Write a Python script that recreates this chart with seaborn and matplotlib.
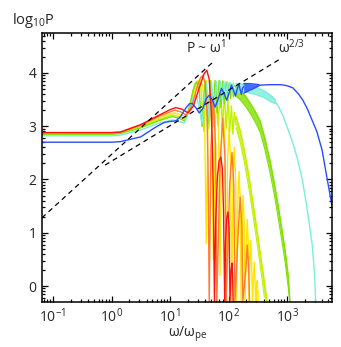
import numpy as np
import matplotlib
matplotlib.use("Agg")
import matplotlib.pyplot as plt
import seaborn as sns
from matplotlib.ticker import FixedLocator, LogLocator, LogFormatterMathtext, NullFormatter

# ---------------- data (log10 omega, log10 P) ----------------
red = [(-1.19, 2.88), (0.00, 2.88), (0.15, 2.89), (0.50, 3.03), (0.80, 3.20), (1.00, 3.31),
       (1.10, 3.35), (1.20, 3.32), (1.31, 3.25), (1.40, 3.38), (1.50, 3.72), (1.58, 3.98),
       (1.63, 4.05), (1.67, 3.88), (1.70, 3.40), (1.72, 2.80), (1.74, 1.80), (1.76, -0.30),
       (1.78, 1.20), (1.81, 2.05), (1.84, 2.35), (1.87, 2.42), (1.895, 2.20), (1.915, 1.40),
       (1.935, -0.30), (1.95, 0.85), (1.97, 1.28), (1.99, 1.39), (2.01, 1.10), (2.025, -0.30),
       (2.045, 0.30), (2.06, 0.43), (2.07, 0.20), (2.08, -0.30), (2.36, -0.30)]

orange = [(-1.19, 2.88), (0.00, 2.88), (0.15, 2.89), (0.50, 3.02), (0.80, 3.18), (1.00, 3.27),
          (1.08, 3.30), (1.18, 3.27), (1.28, 3.21), (1.38, 3.40), (1.46, 3.72), (1.52, 3.91),
          (1.56, 3.95), (1.60, 3.82), (1.63, 3.30), (1.65, 2.30), (1.67, -0.30),
          (1.70, 2.60), (1.74, 3.55), (1.78, 2.60), (1.80, -0.30),
          (1.86, 2.40), (1.90, 3.15), (1.94, 2.40), (1.96, -0.30),
          (2.02, 1.90), (2.06, 2.51), (2.09, 1.90), (2.11, -0.30),
          (2.17, 1.10), (2.20, 1.67), (2.23, 1.10), (2.245, -0.30),
          (2.295, 0.30), (2.32, 0.77), (2.345, 0.30), (2.36, -0.30), (2.51, -0.30)]

yellow = [(-1.19, 2.87), (0.00, 2.87), (0.15, 2.88), (0.50, 3.01), (0.80, 3.15), (1.00, 3.23),
          (1.07, 3.25), (1.17, 3.22), (1.27, 3.18), (1.36, 3.40), (1.44, 3.72), (1.49, 3.85),
          (1.52, 3.87), (1.56, 3.75), (1.59, 3.30), (1.62, 0.80),
          (1.65, 3.10), (1.68, 3.80), (1.71, 3.10), (1.74, 0.50),
          (1.77, 2.90), (1.80, 3.60), (1.83, 2.90), (1.855, 0.20),
          (1.88, 2.65), (1.91, 3.32), (1.94, 2.65), (1.96, -0.30),
          (1.985, 2.35), (2.01, 2.98), (2.035, 2.35), (2.055, -0.30),
          (2.078, 2.00), (2.10, 2.60), (2.122, 2.00), (2.14, -0.30),
          (2.16, 1.60), (2.18, 2.15), (2.20, 1.60), (2.215, -0.30),
          (2.233, 1.20), (2.25, 1.70), (2.267, 1.20), (2.285, -0.30),
          (2.303, 0.80), (2.32, 1.25), (2.337, 0.80), (2.35, -0.30),
          (2.365, 0.45), (2.38, 0.85), (2.395, 0.45), (2.41, -0.30),
          (2.425, 0.10), (2.44, 0.45), (2.455, 0.10), (2.465, -0.30),
          (2.48, -0.10), (2.49, 0.10), (2.50, -0.10), (2.51, -0.30), (2.66, -0.30)]

ygreen = [(-1.19, 2.86), (0.00, 2.86), (0.15, 2.87), (0.50, 2.99), (0.80, 3.12), (1.00, 3.20),
          (1.06, 3.21), (1.16, 3.18), (1.26, 3.14), (1.34, 3.38), (1.41, 3.70), (1.46, 3.84),
          (1.49, 3.85), (1.53, 3.70), (1.56, 3.20), (1.58, 2.90),
          (1.62, 3.86), (1.665, 2.95), (1.70, 3.85), (1.745, 3.00), (1.785, 3.80), (1.825, 3.00),
          (1.86, 3.72), (1.895, 3.00), (1.93, 3.62), (1.96, 2.95), (1.99, 3.50), (2.02, 2.90),
          (2.05, 3.38), (2.075, 2.85), (2.10, 3.26), (2.13, 3.02)]
ygreen_tail = [(2.66, -0.30), (3.05, -0.30)]
ygreen_band_x = [2.13, 2.20, 2.27, 2.34, 2.42, 2.50, 2.57, 2.61, 2.66]
ygreen_band_hi = [3.18, 2.92, 2.55, 2.12, 1.55, 0.95, 0.40, 0.10, -0.30]
ygreen_band_lo = [2.97, 2.70, 2.33, 1.89, 1.32, 0.72, 0.16, -0.18, -0.30]

green = [(-1.19, 2.85), (0.00, 2.85), (0.15, 2.86), (0.50, 2.97), (0.80, 3.10), (1.00, 3.17),
         (1.05, 3.18), (1.15, 3.15), (1.25, 3.10), (1.33, 3.35), (1.39, 3.66), (1.43, 3.80),
         (1.46, 3.83), (1.50, 3.65), (1.53, 3.20), (1.55, 3.00),
         (1.60, 3.84), (1.645, 3.05), (1.69, 3.86), (1.73, 3.15), (1.77, 3.86), (1.805, 3.25),
         (1.84, 3.86), (1.87, 3.35), (1.90, 3.85), (1.93, 3.42), (1.96, 3.83), (1.985, 3.48),
         (2.01, 3.81), (2.035, 3.52), (2.06, 3.79), (2.083, 3.55), (2.105, 3.66)]
green_tail = [(3.05, -0.30), (3.49, -0.30)]
green_band_x = [2.105, 2.20, 2.30, 2.40, 2.47, 2.54, 2.62, 2.71, 2.78, 2.85, 2.91, 2.97, 3.02, 3.05]
green_band_hi = [3.76, 3.68, 3.55, 3.38, 3.25, 3.10, 2.78, 2.35, 1.95, 1.50, 1.08, 0.65, 0.20, -0.30]
green_band_lo = [3.58, 3.50, 3.36, 3.19, 3.05, 2.89, 2.57, 2.13, 1.73, 1.28, 0.86, 0.43, -0.02, -0.30]

cyan = [(-1.19, 2.82), (0.00, 2.82), (0.15, 2.83), (0.50, 2.93), (0.80, 3.05), (1.00, 3.11),
        (1.05, 3.12), (1.15, 3.09), (1.25, 3.06), (1.33, 3.30), (1.40, 3.55), (1.45, 3.58),
        (1.50, 3.35), (1.55, 3.05),
        (1.62, 3.80), (1.67, 3.15), (1.71, 3.83), (1.75, 3.30), (1.79, 3.84), (1.825, 3.42),
        (1.86, 3.84), (1.89, 3.50), (1.92, 3.84), (1.95, 3.56), (1.98, 3.83), (2.005, 3.60),
        (2.03, 3.82), (2.055, 3.62), (2.08, 3.81), (2.10, 3.63), (2.125, 3.71)]
cyan_tail = [(2.80, 3.46), (2.87, 3.34), (2.93, 3.20), (3.02, 2.93), (3.10, 2.68), (3.18, 2.38),
             (3.26, 2.00), (3.32, 1.62), (3.37, 1.25), (3.43, 0.78), (3.47, 0.25), (3.49, -0.30),
             (3.80, -0.30)]
cyan_band_x = [2.125, 2.30, 2.45, 2.60, 2.72, 2.80]
cyan_band_hi = [3.80, 3.78, 3.74, 3.67, 3.58, 3.50]
cyan_band_lo = [3.64, 3.64, 3.60, 3.54, 3.46, 3.42]

blue = [(-1.19, 2.70), (0.00, 2.70), (0.15, 2.71), (0.50, 2.80), (0.75, 2.98), (0.90, 3.07),
        (1.00, 3.09), (1.10, 3.10), (1.18, 3.18), (1.27, 3.34), (1.33, 3.42), (1.38, 3.43),
        (1.44, 3.35), (1.50, 3.25), (1.56, 3.33), (1.62, 3.52), (1.67, 3.58), (1.72, 3.50),
        (1.77, 3.36), (1.82, 3.50), (1.88, 3.71), (1.93, 3.60), (1.97, 3.49), (2.01, 3.62),
        (2.05, 3.77), (2.09, 3.66), (2.12, 3.57), (2.15, 3.70), (2.18, 3.79), (2.20, 3.68),
        (2.22, 3.60), (2.24, 3.71), (2.26, 3.75)]
blue_tail = [(2.52, 3.77), (2.70, 3.78), (2.90, 3.78), (3.00, 3.76), (3.10, 3.72), (3.20, 3.60),
             (3.27, 3.49), (3.35, 3.32), (3.43, 3.11), (3.51, 2.90), (3.60, 2.55), (3.68, 2.05),
             (3.77, 1.50), (3.80, 1.30)]
blue_band_x = [2.26, 2.35, 2.45, 2.52]
blue_band_hi = [3.80, 3.80, 3.79, 3.78]
blue_band_lo = [3.62, 3.67, 3.72, 3.76]

slope_one = [(-1.19, 1.28), (1.75, 4.22)]
slope_two_thirds = [(-0.11, 2.27), (2.88, 4.26)]

colors = {"red": "#ff1010", "orange": "#ff7a35", "yellow": "#ffe600",
          "ygreen": "#c2f000", "green": "#80e000", "cyan": "#78eedc", "blue": "#2a4cff"}

x_ticks = [0.1, 1, 10, 100, 1000]
y_ticks = [0, 1, 2, 3, 4]

# ---------------- style ----------------
sns.set_style("ticks")
plt.rcParams["font.family"] = ["Open Sans", "DejaVu Sans"]
plt.rcParams["mathtext.fontset"] = "custom"
plt.rcParams["mathtext.rm"] = "Open Sans"
plt.rcParams["mathtext.it"] = "Open Sans:italic"
plt.rcParams["mathtext.bf"] = "Open Sans:bold"

fig = plt.figure(figsize=(3.41, 3.47), dpi=100)
ax = fig.add_axes([42 / 341, 1 - 302 / 347, 290 / 341, 269 / 347])


def draw(pairs, color, lw=1.0, z=2):
    lx, lp = zip(*pairs)
    sns.lineplot(x=10 ** np.array(lx), y=list(lp), sort=False, estimator=None,
                 color=color, lw=lw, ax=ax, legend=False, zorder=z)


def band(bx, lo, hi, color):
    xx = 10 ** np.array(bx)
    ax.fill_between(xx, lo, hi, color=color, lw=0, alpha=0.8, zorder=2)
    sns.lineplot(x=xx, y=hi, sort=False, estimator=None, color=color, lw=1.0, ax=ax,
                 legend=False, zorder=2)
    sns.lineplot(x=xx, y=lo, sort=False, estimator=None, color=color, lw=0.8, ax=ax,
                 legend=False, zorder=2)


draw(red, colors["red"], z=3.2)
draw(orange, colors["orange"], z=3.1)
draw(yellow, colors["yellow"])
draw(ygreen, colors["ygreen"])
band(ygreen_band_x, ygreen_band_lo, ygreen_band_hi, colors["ygreen"])
draw(ygreen_tail, colors["ygreen"])
draw(green, colors["green"])
band(green_band_x, green_band_lo, green_band_hi, colors["green"])
draw(green_tail, colors["green"])
draw(cyan, colors["cyan"])
band(cyan_band_x, cyan_band_lo, cyan_band_hi, colors["cyan"])
draw(cyan_tail, colors["cyan"])
draw(blue, colors["blue"], z=3.3)
band(blue_band_x, blue_band_lo, blue_band_hi, colors["blue"])
draw(blue_tail, colors["blue"], z=3.3)

for line in (slope_one, slope_two_thirds):
    lx, lp = zip(*line)
    sns.lineplot(x=10 ** np.array(lx), y=list(lp), sort=False, estimator=None, color="black",
                 lw=0.9, ax=ax, legend=False, linestyle=(0, (4, 3.2)), zorder=5)

ax.set_xscale("log")
ax.set_xlim(10 ** -1.188, 10 ** 3.769)
ax.set_ylim(-0.30, 4.75)

ax.xaxis.set_major_locator(FixedLocator(x_ticks))
ax.xaxis.set_major_formatter(LogFormatterMathtext())
ax.xaxis.set_minor_locator(LogLocator(base=10, subs=np.arange(2, 10), numticks=20))
ax.xaxis.set_minor_formatter(NullFormatter())
ax.yaxis.set_major_locator(FixedLocator(y_ticks))
ax.set_yticklabels([str(t) for t in y_ticks])
minor_y = [n + np.log10(k) for n in range(-1, 5) for k in range(2, 10)]
minor_y = [m for m in minor_y if -0.30 <= m <= 4.75]
ax.yaxis.set_minor_locator(FixedLocator(minor_y))

ax.tick_params(which="both", direction="in", top=True, right=True, width=0.9, color="black")
ax.tick_params(which="major", length=4.5, labelsize=10, pad=4)
ax.tick_params(which="minor", length=2.2)
for s in ax.spines.values():
    s.set_linewidth(1.1)
    s.set_color("black")
    s.set_zorder(6)
ax.set_xlabel("")
ax.set_ylabel("")

ax.text(0.495, 0.944, r"P ~ ω$^{1}$", transform=ax.transAxes, fontsize=10, va="center", ha="left")
ax.text(0.815, 0.944, r"ω$^{2/3}$", transform=ax.transAxes, fontsize=10, va="center", ha="left")

fig.text(12 / 341, 1 - 21 / 347, r"log$_{10}$P", fontsize=10.5, ha="left", va="center")
fig.text(188 / 341, 1 - 334 / 347, r"ω/ω$_{\mathrm{pe}}$", fontsize=10, ha="center", va="center")

fig.savefig("out.png", dpi=100)
